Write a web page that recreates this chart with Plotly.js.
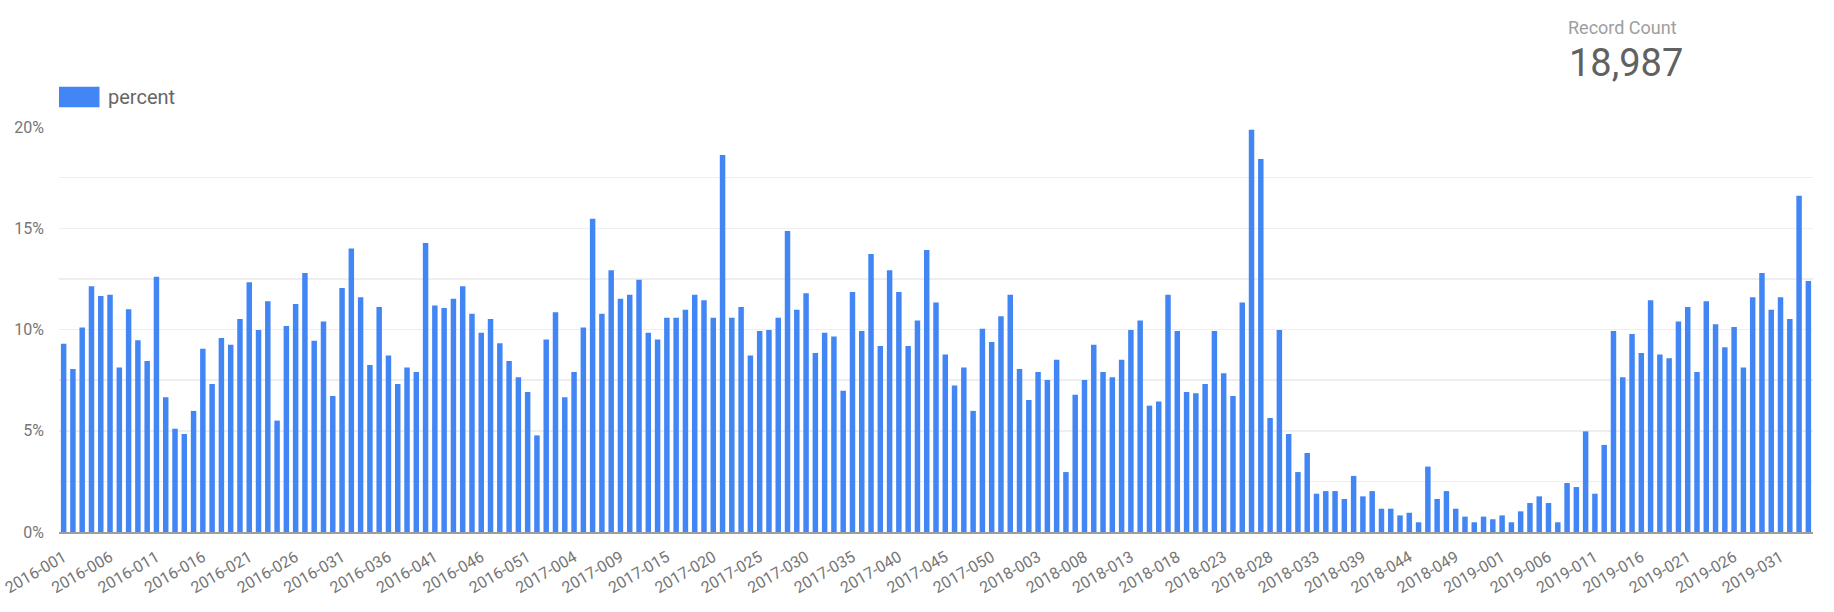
<!DOCTYPE html>
<html>
<head>
<meta charset="utf-8">
<script src="https://cdn.plot.ly/plotly-3.0.1.min.js"></script>
<style>
  html, body { margin: 0; padding: 0; background: #ffffff; }
  #chart { width: 1834px; height: 612px; }
</style>
</head>
<body>
<div id="chart"></div>
<script>
// Week categories (year-week)
const weeks2016 = ["2016-001","2016-002","2016-003","2016-004","2016-005","2016-006","2016-007","2016-008","2016-009","2016-010",
  "2016-011","2016-012","2016-013","2016-014","2016-015","2016-016","2016-017","2016-018","2016-019","2016-020",
  "2016-021","2016-022","2016-023","2016-024","2016-025","2016-026","2016-027","2016-028","2016-029","2016-030",
  "2016-031","2016-032","2016-033","2016-034","2016-035","2016-036","2016-037","2016-038","2016-039","2016-040",
  "2016-041","2016-042","2016-043","2016-044","2016-045","2016-046","2016-047","2016-048","2016-049","2016-050",
  "2016-051","2016-052"];
const weeks2017 = ["2017-001","2017-002","2017-003","2017-004","2017-005","2017-006","2017-007","2017-008","2017-009","2017-010",
  "2017-011","2017-012","2017-014","2017-015","2017-016","2017-017","2017-018","2017-019","2017-020",
  "2017-021","2017-022","2017-023","2017-024","2017-025","2017-026","2017-027","2017-028","2017-029","2017-030",
  "2017-031","2017-032","2017-033","2017-034","2017-035","2017-036","2017-037","2017-038","2017-039","2017-040",
  "2017-041","2017-042","2017-043","2017-044","2017-045","2017-046","2017-047","2017-048","2017-049","2017-050",
  "2017-051","2017-052"];
const weeks2018 = ["2018-001","2018-002","2018-003","2018-004","2018-005","2018-006","2018-007","2018-008","2018-009","2018-010",
  "2018-011","2018-012","2018-013","2018-014","2018-015","2018-016","2018-017","2018-018","2018-019","2018-020",
  "2018-021","2018-022","2018-023","2018-024","2018-025","2018-026","2018-027","2018-028","2018-029","2018-030",
  "2018-031","2018-032","2018-033","2018-034","2018-035","2018-037","2018-038","2018-039","2018-040",
  "2018-041","2018-042","2018-043","2018-044","2018-045","2018-046","2018-047","2018-048","2018-049","2018-050",
  "2018-051","2018-052","2018-053"];
const weeks2019 = ["2019-001","2019-002","2019-003","2019-004","2019-005","2019-006","2019-007","2019-008","2019-009","2019-010",
  "2019-011","2019-012","2019-013","2019-014","2019-015","2019-016","2019-017","2019-018","2019-019","2019-020",
  "2019-021","2019-022","2019-023","2019-024","2019-025","2019-026","2019-027","2019-028","2019-029","2019-030",
  "2019-031","2019-032","2019-033","2019-034"];
const categories = weeks2016.concat(weeks2017, weeks2018, weeks2019);

// percent values
const percent2016 = [9.30,8.05,10.10,12.13,11.65,11.72,8.12,11.00,9.47,8.44,
  12.60,6.65,5.10,4.84,5.98,9.05,7.31,9.58,9.25,10.52,
  12.33,9.98,11.39,5.50,10.17,11.26,12.79,9.45,10.39,6.72,
  12.05,14.00,11.59,8.25,11.11,8.71,7.31,8.12,7.90,14.27,
  11.19,11.06,11.52,12.13,10.78,9.84,10.52,9.32,8.44,7.64,
  6.91,4.77];
const percent2017 = [9.51,10.85,6.65,7.90,10.10,15.47,10.78,12.92,11.52,11.72,
  12.46,9.84,9.51,10.58,10.58,10.98,11.72,11.44,10.58,
  18.62,10.58,11.11,8.71,9.93,9.98,10.58,14.86,10.98,11.79,
  8.84,9.84,9.65,6.98,11.85,9.93,13.73,9.19,12.92,11.85,
  9.19,10.45,13.93,11.33,8.77,7.24,8.12,5.98,10.04,9.38,
  10.65,11.72];
const percent2018 = [8.05,6.52,7.90,7.51,8.51,2.96,6.78,7.51,9.25,7.90,
  7.64,8.51,9.98,10.45,6.24,6.44,11.72,9.93,6.91,6.85,
  7.31,9.93,7.84,6.72,11.33,19.87,18.42,5.63,9.98,4.84,
  2.96,3.90,1.89,2.02,2.02,1.63,2.77,1.76,2.02,
  1.15,1.15,0.82,0.95,0.48,3.23,1.63,2.02,1.15,0.76,
  0.48,0.76,0.63];
const percent2019 = [0.82,0.48,1.02,1.43,1.76,1.43,0.48,2.42,2.22,4.97,
  1.89,4.30,9.93,7.64,9.78,8.84,11.44,8.77,8.58,10.39,
  11.11,7.90,11.39,10.26,9.12,10.12,8.12,11.59,12.79,10.98,
  11.59,10.52,16.61,12.40];
const percentValues = percent2016.concat(percent2017, percent2018, percent2019);

// tick labels: every fifth week
const tickLabels = categories.filter((c, i) => i % 5 === 0);

const seriesName = "percent";
const kpiLabel = "Record Count";
const kpiValue = "18,987";

const BLUE = "#4285F4";
const FONT = "Roboto, 'Noto Sans', sans-serif";

// plot area geometry in pixels (for paper conversion)
const W = 1834, H = 612;
const M = { l: 59, r: 21, t: 127, b: 80 };
const PW = W - M.l - M.r, PH = H - M.t - M.b;
const px = x => (x - M.l) / PW;
const py = y => (H - M.b - y) / PH;

const trace = {
  type: "bar",
  x: categories,
  y: percentValues,
  name: seriesName,
  marker: { color: BLUE, line: { width: 0 } },
  showlegend: false,
  hovertemplate: "%{x}: %{y:.2f}%<extra></extra>"
};

const layout = {
  width: W,
  height: H,
  margin: M,
  paper_bgcolor: "#ffffff",
  plot_bgcolor: "#ffffff",
  font: { family: FONT, color: "#757575", size: 16 },
  bargap: 0.41,
  xaxis: {
    type: "category",
    tickmode: "array",
    tickvals: tickLabels,
    ticktext: tickLabels,
    tickangle: -30,
    tickfont: { family: FONT, size: 16, color: "#757575" },
    showgrid: false,
    showline: true,
    linecolor: "#9e9e9e",
    linewidth: 2,
    ticks: "",
    ticklabelstandoff: 8,
    zeroline: false,
    fixedrange: true
  },
  yaxis: {
    range: [0, 20],
    tickmode: "linear",
    tick0: 0,
    dtick: 5,
    ticksuffix: "%",
    tickfont: { family: FONT, size: 16, color: "#757575" },
    showgrid: true,
    gridcolor: "#eeeeee",
    gridwidth: 1.5,
    minor: { dtick: 2.5, showgrid: true, gridcolor: "#eeeeee", gridwidth: 1.5 },
    zeroline: false,
    showline: false,
    ticks: "",
    ticklabelstandoff: 14,
    fixedrange: true
  },
  shapes: [
    { type: "rect", xref: "paper", yref: "paper",
      x0: px(59), x1: px(99.5), y0: py(107.3), y1: py(86.7),
      fillcolor: BLUE, line: { width: 0 } }
  ],
  annotations: [
    { xref: "paper", yref: "paper", x: px(106), y: py(97), xanchor: "left", yanchor: "middle",
      text: seriesName, showarrow: false, font: { family: FONT, size: 20, color: "#666666" } },
    { xref: "paper", yref: "paper", x: px(1566), y: py(27), xanchor: "left", yanchor: "middle",
      text: kpiLabel, showarrow: false, font: { family: FONT, size: 18, color: "#9e9e9e" } },
    { xref: "paper", yref: "paper", x: px(1567), y: py(63), xanchor: "left", yanchor: "middle",
      text: kpiValue, showarrow: false, font: { family: FONT, size: 38, color: "#616161" } }
  ]
};

Plotly.newPlot("chart", [trace], layout, { displayModeBar: false, staticPlot: true });
</script>
</body>
</html>
